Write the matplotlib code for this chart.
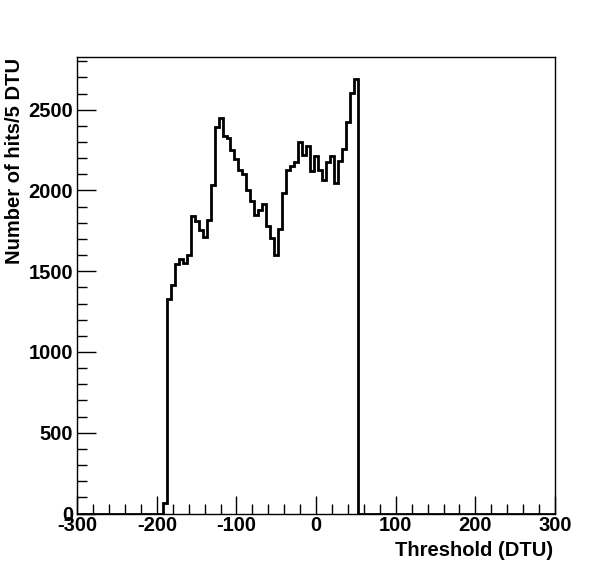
import numpy as np
import matplotlib
matplotlib.use("Agg")
import matplotlib.pyplot as plt
from matplotlib.ticker import MultipleLocator

# Histogram data: bins of 5 DTU, centres from -190 to 50
first_center = -190
bin_width = 5
counts = [65,
          1328, 1416, 1542, 1577, 1554, 1598, 1842, 1811, 1753, 1709, 1815,
          2031, 2393, 2446, 2335, 2322, 2252, 2195, 2126, 2099, 2000, 1932,
          1850, 1876, 1916, 1782, 1703, 1598, 1759, 1982, 2126, 2149, 2174,
          2298, 2221, 2277, 2122, 2215, 2128, 2062, 2174, 2211, 2044, 2180,
          2257, 2421, 2603, 2690]
x_range = (-300, 300)

plt.rcParams['font.family'] = ['Liberation Sans', 'DejaVu Sans']
plt.rcParams['font.weight'] = 'bold'
plt.rcParams['axes.unicode_minus'] = False

fig = plt.figure(figsize=(5.96, 5.72), dpi=100)
W, H = 596, 572
left, right, top, bottom = 77.2, 555, 57.3, 513.5
ax = fig.add_axes([left / W, 1 - bottom / H, (right - left) / W, (bottom - top) / H])

# full bin grid over the axis range
centers = np.arange(x_range[0], x_range[1] + bin_width, bin_width)
vals = np.zeros(len(centers))
start = int(round((first_center - x_range[0]) / bin_width))
vals[start:start + len(counts)] = counts
edges = np.concatenate([centers - bin_width / 2, [centers[-1] + bin_width / 2]])
ax.stairs(vals, edges, color='black', linewidth=2.0, baseline=None)

ax.set_xlim(*x_range)
ax.set_ylim(0, 1.05 * max(counts))

for s in ax.spines.values():
    s.set_linewidth(1.0)

ax.xaxis.set_major_locator(MultipleLocator(100))
ax.xaxis.set_minor_locator(MultipleLocator(20))
ax.yaxis.set_major_locator(MultipleLocator(500))
ax.yaxis.set_minor_locator(MultipleLocator(100))
ax.tick_params(which='both', direction='in', top=False, right=False, width=1)
ax.tick_params(axis='x', which='major', length=13, pad=2)
ax.tick_params(axis='x', which='minor', length=7)
ax.tick_params(axis='y', which='major', length=14, pad=3)
ax.tick_params(axis='y', which='minor', length=7)
for lab in ax.get_xticklabels() + ax.get_yticklabels():
    lab.set_fontsize(14.5)
    lab.set_fontweight('bold')

fig.text(553 / W, 1 - 551 / H, 'Threshold (DTU)', ha='right', va='center',
         fontsize=14.5, fontweight='bold')
fig.text(15 / W, 1 - 57.5 / H, 'Number of hits/5 DTU', ha='center', va='top',
         rotation=90, fontsize=14.5, fontweight='bold')

fig.savefig('out.png', dpi=100, facecolor='white')
